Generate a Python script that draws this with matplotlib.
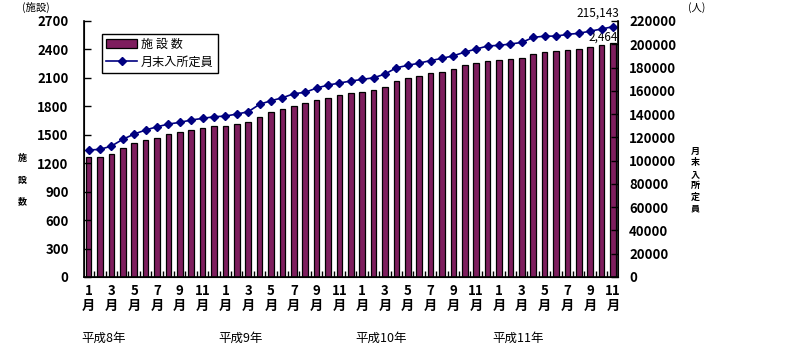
import matplotlib
matplotlib.use("Agg")
import matplotlib.pyplot as plt
import numpy as np

plt.rcParams['font.family'] = ['Noto Sans CJK JP', 'DejaVu Sans']

# 平成8年1月 ～ 平成11年11月 (月次)
months = [m for y in range(4) for m in range(1, 13)][:47]
years = ['平成8年', '平成9年', '平成10年', '平成11年']

facilities = [1268, 1268, 1292, 1363, 1416, 1448, 1469, 1504, 1533, 1554,
              1575, 1589, 1589, 1610, 1630, 1692, 1737, 1769, 1808, 1833,
              1864, 1893, 1917, 1939, 1949, 1970, 1999, 2062, 2094, 2119,
              2148, 2161, 2193, 2235, 2260, 2277, 2288, 2299, 2309, 2355,
              2373, 2383, 2394, 2405, 2426, 2447, 2464]

capacity = [109100, 109700, 112500, 118300, 122850, 126300, 129100, 131400,
            132900, 134900, 136300, 137700, 138300, 140000, 142000, 148400,
            151500, 154000, 157500, 158700, 162400, 164900, 166700, 168400,
            169800, 171200, 174400, 179800, 181900, 183800, 186000, 187900,
            190100, 193300, 195900, 198500, 199100, 200200, 201600, 205900,
            207000, 207000, 208500, 209400, 211300, 213100, 215143]

bar_color = '#7E1E5E'
line_color = '#000080'

fig = plt.figure(figsize=(8.04, 3.54), dpi=100)
ax = fig.add_axes([84 / 804, 77 / 354, 534 / 804, 256 / 354])
x = np.arange(len(facilities))

bars = ax.bar(x, facilities, width=0.5, color=bar_color, edgecolor='black',
              linewidth=0.9, label='施 設 数')
ax.set_xlim(-0.4, len(facilities) - 0.56)
ax.set_ylim(0, 2700)
ax.set_yticks(np.arange(0, 2701, 300))
ax.tick_params(axis='y', direction='in', length=5, width=1, pad=11,
               labelsize=9.5)
for t in ax.get_yticklabels():
    t.set_fontweight('bold')

# x axis: month labels under odd months, small inner ticks between bars
ax.set_xticks(x[::2])
ax.set_xticklabels([f'{m}\n月' for m in months[::2]], fontsize=9.5,
                   fontweight='bold', linespacing=1.05)
ax.tick_params(axis='x', which='major', length=0, pad=5)
ax.set_xticks(x[:-1] + 0.5, minor=True)
ax.tick_params(axis='x', which='minor', direction='in', length=4, width=1)
ax.spines['top'].set_visible(False)
for s in ['left', 'bottom']:
    ax.spines[s].set_linewidth(1.2)

ax2 = ax.twinx()
line, = ax2.plot(x, capacity, color=line_color, marker='D', markersize=4.5,
                 linewidth=1.2, label='月末入所定員')
ax2.set_ylim(0, 220000)
ax2.set_yticks(np.arange(0, 220001, 20000))
ax2.tick_params(axis='y', direction='in', length=5, width=1, pad=8,
                labelsize=9.5)
for t in ax2.get_yticklabels():
    t.set_fontweight('bold')
ax2.spines['top'].set_visible(False)
ax2.spines['right'].set_linewidth(1.2)

# end-point values
ax2.annotate(f'{capacity[-1]:,}', (x[-1], capacity[-1]), xytext=(-11, 5),
             textcoords='offset points', ha='center', va='bottom', fontsize=8.5)
ax.annotate(f'{facilities[-1]:,}', (x[-1], facilities[-1]), xytext=(-7, 0),
            textcoords='offset points', ha='center', va='bottom', fontsize=8.5)

leg = ax2.legend([bars, line], ['施 設 数', '月末入所定員'], loc='upper left',
                 bbox_to_anchor=(0.033, 0.951), fontsize=8.7, frameon=True,
                 fancybox=False, edgecolor='black', framealpha=1,
                 handlelength=2.6, handletextpad=0.3, borderpad=0.35,
                 labelspacing=0.4, borderaxespad=0)
leg.get_frame().set_linewidth(1)

# year labels
for i, yl in enumerate(years):
    ax.text(i * 12 - 0.6, -0.238, yl, transform=ax.get_xaxis_transform(),
            ha='left', va='center', fontsize=9)

# axis titles
fig.text(36 / 804, 1 - 7 / 354, '(施設)', ha='center', va='center', fontsize=7.5)
fig.text(22 / 804, 1 - 180 / 354, '施\n\n設\n\n数', ha='center', va='center',
         fontsize=6.5, linespacing=1.25, fontweight='bold')
fig.text(697 / 804, 1 - 8 / 354, '(人)', ha='center', va='center', fontsize=7.5)
fig.text(695 / 804, 1 - 180 / 354, '月\n末\n入\n所\n定\n員', ha='center',
         va='center', fontsize=6.5, linespacing=1.35, fontweight='bold')

fig.savefig('out.png', dpi=100)
